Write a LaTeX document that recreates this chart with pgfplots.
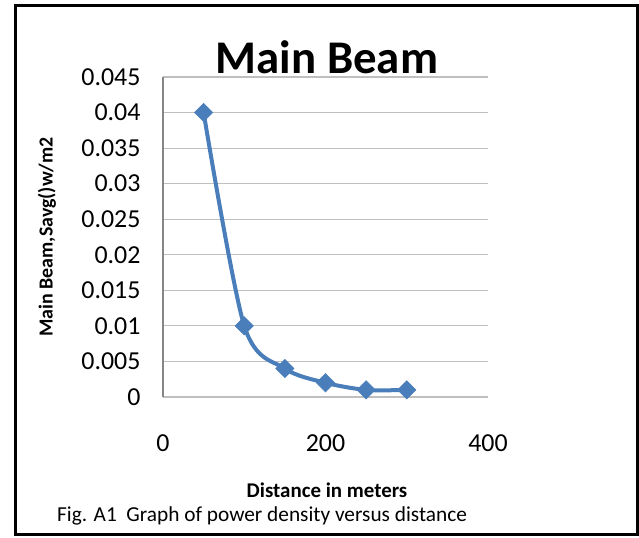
\documentclass[border=0pt]{standalone}
\usepackage{fontspec}
\setmainfont{Carlito}
\usepackage{pgfplots}
\pgfplotsset{compat=1.18}
\definecolor{exblue}{HTML}{4A7EBB}
\definecolor{grid}{HTML}{868686}
\begin{document}
\begin{tikzpicture}[x=1bp,y=1bp]
\useasboundingbox (-163,-141) rectangle (476,397);
\draw[line width=3bp] (-147.5,-137.5) rectangle (474.5,391);
\begin{axis}[
  at={(0,0)}, anchor=south west,
  scale only axis, width=325bp, height=320bp,
  xmin=0, xmax=400, ymin=0, ymax=0.045,
  xtick={0,200,400}, ytick={0,0.005,...,0.045},
  axis x line=none,
  axis y line*=left,
  axis line style={grid, line width=1.2bp},
  y axis line style={-},
  ymajorgrids, major grid style={grid, line width=1.2bp},
  major tick length=0pt,
  scaled y ticks=false,
  /pgf/number format/assume math mode=true,
  yticklabel style={/pgf/number format/fixed,/pgf/number format/precision=3, font=\fontsize{26}{28}\selectfont, xshift=-19bp},
  clip=false,
]
\addplot[exblue, line width=4bp, smooth, mark=square*, mark size=6.5bp, mark options={rotate=45, solid, fill=exblue, draw=exblue, line width=0.5bp}]
coordinates {(50,0.04) (100,0.01) (150,0.004) (200,0.002) (250,0.001) (300,0.001)};
\end{axis}
\node[font=\fontsize{26}{28}\selectfont] at (0,-46) {0};
\node[font=\fontsize{26}{28}\selectfont] at (162.5,-46) {200};
\node[font=\fontsize{26}{28}\selectfont] at (325,-46) {400};
\node[font=\fontsize{47}{50}\selectfont\bfseries] at (164,340) {Main Beam};
\node[font=\fontsize{21}{24}\selectfont\bfseries] at (164,-93) {Distance in meters};
\node[font=\fontsize{21.4}{24}\selectfont, anchor=west, inner sep=0] at (-106,-119) {Fig. A1\ \ Graph of power density versus distance};
\node[font=\fontsize{20}{22}\selectfont\bfseries, rotate=90] at (-116,160) {Main Beam,Savg()w/m2};
\end{tikzpicture}
\end{document}
